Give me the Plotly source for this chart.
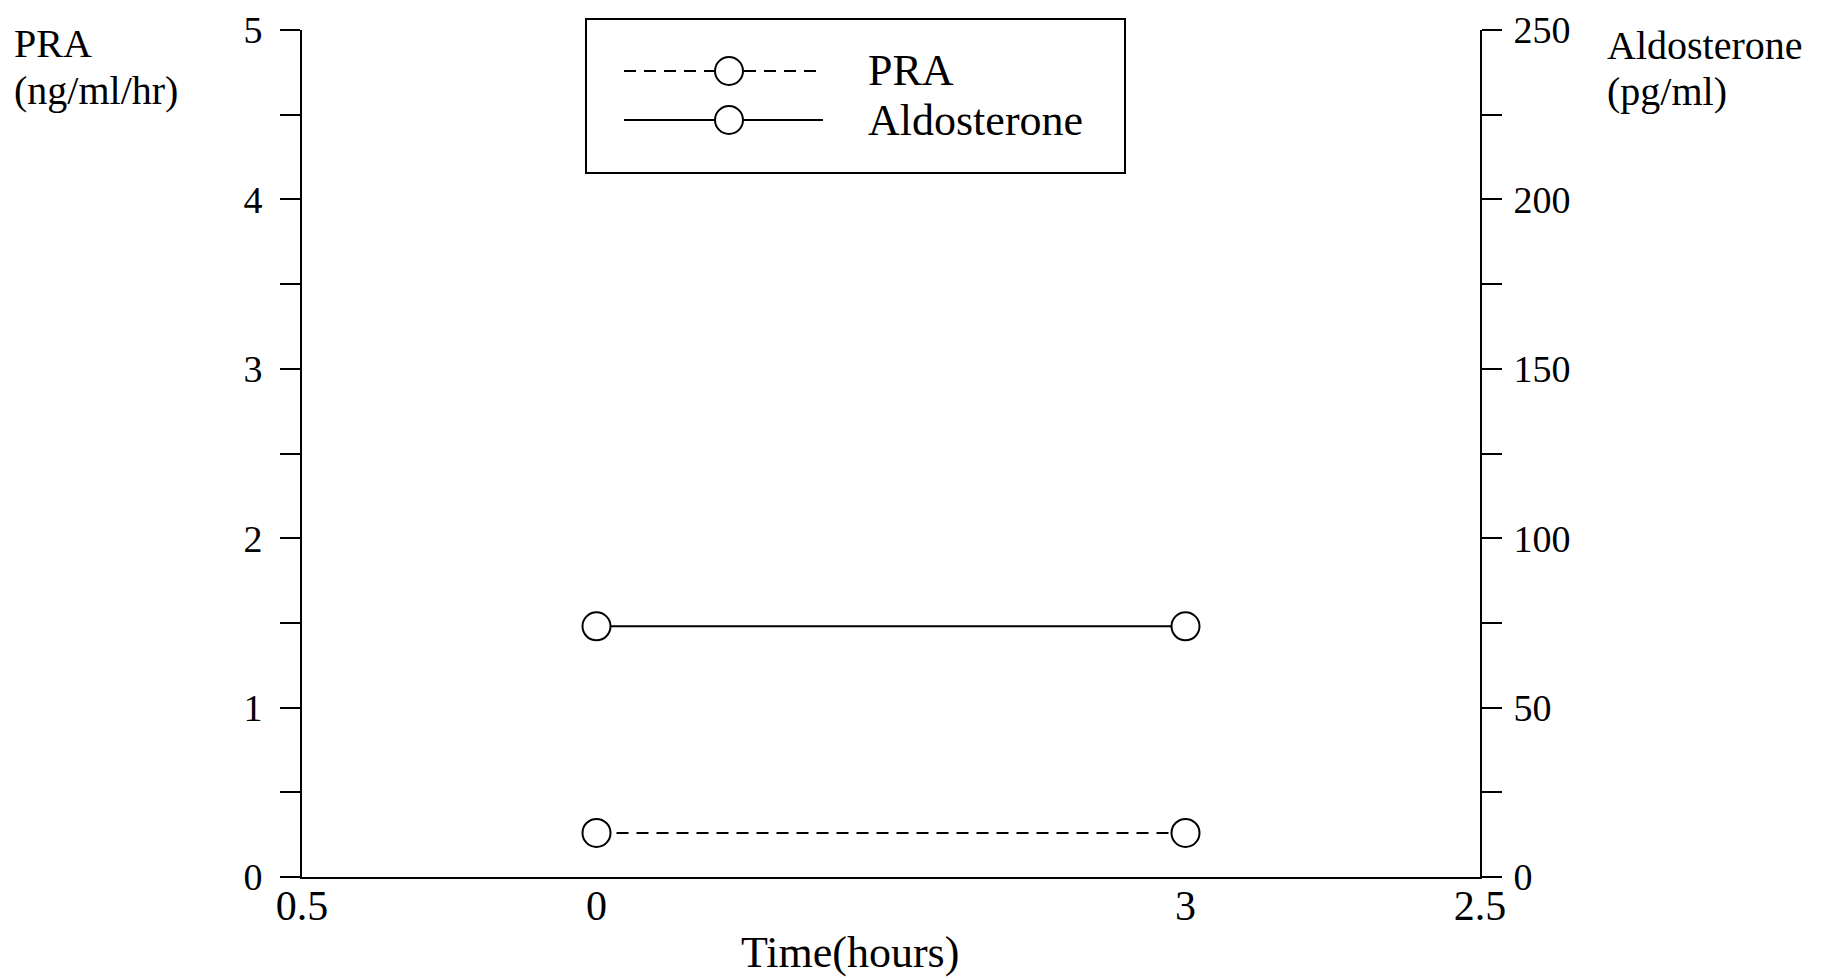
import plotly.graph_objects as go

# ---- data ----
time_labels = ["0", "3"]          # hours
time_pos = [0, 1]                 # category positions on the x axis
pra_values = [0.26, 0.26]         # ng/ml/hr
aldo_values = [74, 74]            # pg/ml

x_tickvals = [-0.5, 0, 1, 1.5]
x_ticktext = ["0.5", "0", "3", "2.5"]

y1_tickvals = [i * 0.5 for i in range(11)]
y1_ticktext = [str(int(v)) if v == int(v) else "" for v in y1_tickvals]
y2_tickvals = [i * 25 for i in range(11)]
y2_ticktext = [str(v) if v % 50 == 0 else "" for v in y2_tickvals]

# ---- layout geometry (page pixels; page has an 8px body margin) ----
W, H = 1830, 979
OFF = 8
L, R, T, B = 302, 1480, 30, 877
PW, PH = R - L, B - T

def px(x):
    return (x - L) / PW

def py(y):
    return (B - y) / PH

FONT = "Liberation Serif"
FS = 44
axis_font = dict(family=FONT, size=FS, color="black")
xtick_font = dict(family=FONT, size=42, color="black")
ytick_font = dict(family=FONT, size=38, color="black")

fig = go.Figure()

marker = dict(symbol="circle", size=28, color="white",
              line=dict(color="black", width=2))

fig.add_trace(go.Scatter(x=time_pos, y=pra_values, mode="lines+markers",
                         name="PRA", line=dict(color="black", width=2, dash="12px,8px"),
                         marker=marker, showlegend=False, yaxis="y"))
fig.add_trace(go.Scatter(x=time_pos, y=aldo_values, mode="lines+markers",
                         name="Aldosterone", line=dict(color="black", width=2),
                         marker=marker, showlegend=False, yaxis="y2"))

fig.update_layout(
    width=W, height=H,
    margin=dict(l=L - OFF, r=W - R + OFF, t=T - OFF, b=H - B + OFF, pad=0,
                autoexpand=False),
    paper_bgcolor="white", plot_bgcolor="white",
    font=axis_font,
    xaxis=dict(range=[-0.5, 1.5], tickvals=x_tickvals, ticktext=x_ticktext,
               showgrid=False, zeroline=False, showline=True, linecolor="black",
               linewidth=2, ticks="", tickfont=xtick_font, ticklabelstandoff=-9,
               ticklabeloverflow="allow", automargin=False),
    yaxis=dict(range=[0, 5], tickvals=y1_tickvals, ticktext=y1_ticktext,
               showgrid=False, zeroline=False, showline=True, linecolor="black",
               linewidth=2, ticks="outside", ticklen=20, tickwidth=2,
               tickcolor="black", tickfont=ytick_font, ticklabelstandoff=10,
               ticklabeloverflow="allow", automargin=False),
    yaxis2=dict(range=[0, 250], tickvals=y2_tickvals, ticktext=y2_ticktext,
                overlaying="y", side="right", anchor="x",
                showgrid=False, zeroline=False, showline=True, linecolor="black",
                linewidth=2, ticks="outside", ticklen=20, tickwidth=2,
                tickcolor="black", tickfont=ytick_font, ticklabelstandoff=4,
                ticklabeloverflow="allow", automargin=False),
    showlegend=False,
)

def label(text, x, y, xanchor="left", size=FS):
    fig.add_annotation(text=text, x=px(x), y=py(y), xref="paper", yref="paper",
                       showarrow=False, font=dict(family=FONT, size=size, color="black"),
                       xanchor=xanchor, yanchor="middle")

# axis titles
label("Time(hours)", 850, 952, xanchor="center", size=44)
label("PRA", 12, 44, size=40)
label("(ng/ml/hr)", 12, 90, size=40)
label("Aldosterone", 1605, 45, size=40)
label("(pg/ml)", 1605, 91, size=40)

# legend box (drawn manually to reproduce the long sample lines)
fig.add_shape(type="rect", xref="paper", yref="paper",
              x0=px(586), x1=px(1125), y0=py(173), y1=py(19),
              line=dict(color="black", width=2), fillcolor="white", layer="above")

legend_rows = [("PRA", 71, "12px,8px"), ("Aldosterone", 120, "solid")]
for name, yrow, dash in legend_rows:
    fig.add_shape(type="line", xref="paper", yref="paper",
                  x0=px(624), x1=px(823), y0=py(yrow), y1=py(yrow),
                  line=dict(color="black", width=2, dash=dash), layer="above")
    fig.add_shape(type="circle", xref="paper", yref="paper",
                  xsizemode="pixel", ysizemode="pixel",
                  xanchor=px(729), yanchor=py(yrow),
                  x0=-14, x1=14, y0=-14, y1=14,
                  line=dict(color="black", width=2), fillcolor="white", layer="above")
    label(name, 866, yrow)

fig.write_html("out.html")
